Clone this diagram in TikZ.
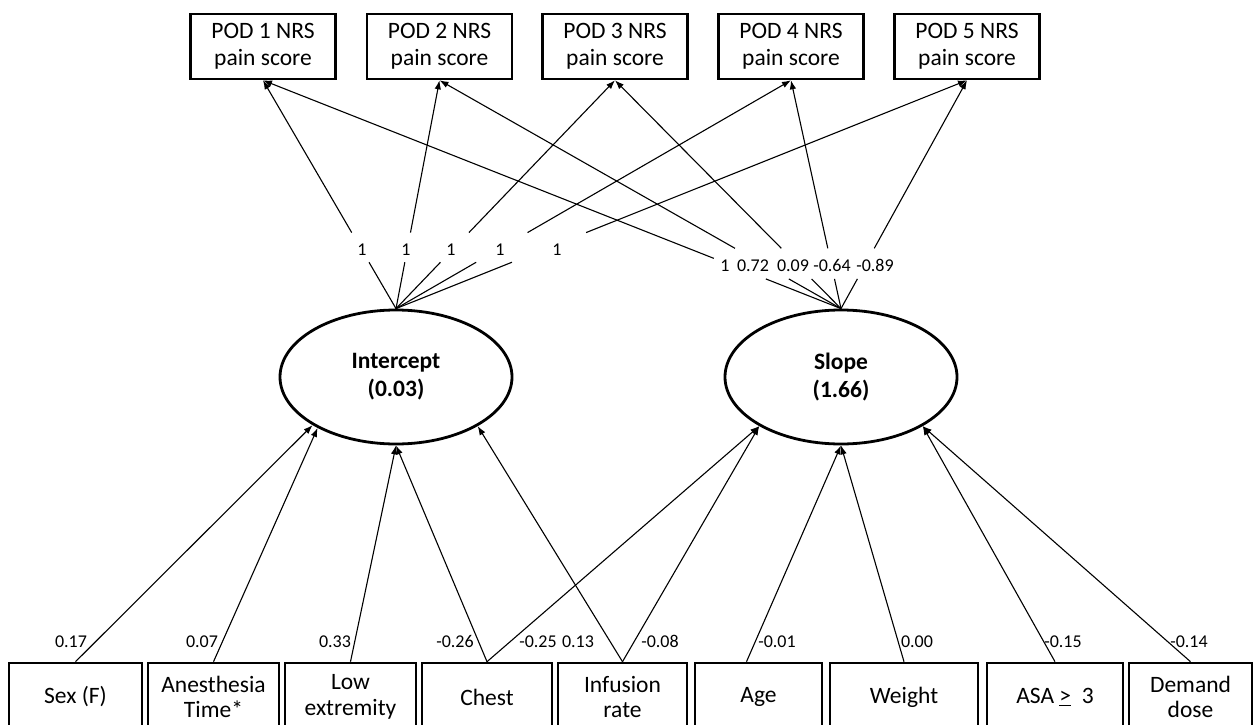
\documentclass[tikz,border=0pt]{standalone}
\usepackage{fontspec}
\setmainfont{Carlito}
\usetikzlibrary{arrows.meta,calc,shapes.geometric}
\begin{document}
\begin{tikzpicture}[x=1pt,y=-1pt,
  pod/.style={draw,line width=2.6pt,minimum width=145,minimum height=65,inner sep=0,align=center,font=\fontsize{23.5}{27}\selectfont},
  cov/.style={draw,line width=2.6pt,minimum height=68,inner sep=0,align=center,font=\fontsize{23.5}{25.5}\selectfont},
  lat/.style={draw,ellipse,line width=2.8pt,minimum width=232,minimum height=134,inner sep=0,align=center,font=\bfseries\fontsize{23.5}{28}\selectfont},
  lbl/.style={inner sep=0,text height=12pt,text depth=0pt,font=\fontsize{18}{20}\selectfont},
  con/.style={line width=1.1pt},
  arr/.style={line width=1.1pt,-{Latex[length=9pt,width=6.5pt]}}]
\path[use as bounding box] (0,0) rectangle (1253,725);
\clip (0,0) rectangle (1253,725);

% outcome boxes
\node[pod] (p1) at (263,46.5) {POD 1 NRS\\pain score};
\node[pod] (p2) at (439.5,46.5) {POD 2 NRS\\pain score};
\node[pod] (p3) at (615,46.5) {POD 3 NRS\\pain score};
\node[pod] (p4) at (791,46.5) {POD 4 NRS\\pain score};
\node[pod] (p5) at (967,46.5) {POD 5 NRS\\pain score};

% latent factors
\node[lat] (I) at (396,377) {Intercept\\(0.03)};
\node[lat] (S) at (841,377) {Slope\\(1.66)};

% covariates
\node[cov,minimum width=133] (sex) at (75.5,697) {Sex (F)};
\node[cov,minimum width=131] (ane) at (213.5,697) {Anesthesia\\Time*};
\node[cov,minimum width=131] (low) at (350.5,697) {Low\\extremity};
\node[cov,minimum width=130] (chest) at (487,697) {Chest};
\node[cov,minimum width=129] (inf) at (622.5,697) {Infusion\\rate};
\node[cov,minimum width=127] (age) at (758.5,697) {Age};
\node[cov,minimum width=148] (wt) at (904,697) {Weight};
\node[cov,minimum width=136] (asa) at (1055,697) {ASA \underline{>}~ 3};
\node[cov,minimum width=123] (dem) at (1190.5,697) {Demand\\dose};

% intercept loadings
\foreach \p in {p1,p2,p3,p4,p5}{
  \draw[con] (I.north) -- ($(I.north)!0.203!(\p.south)$);
  \draw[arr] ($(I.north)!0.333!(\p.south)$) -- (\p.south);
}
% slope loadings
\draw[con] (S.north) -- ($(S.north)!0.13!(p1.south)$);
\draw[arr] ($(S.north)!0.22!(p1.south)$) -- (p1.south);
\foreach \p in {p2,p3,p4,p5}{
  \draw[con] (S.north) -- ($(S.north)!0.13!(\p.south)$);
  \draw[arr] ($(S.north)!0.264!(\p.south)$) -- (\p.south);
}

\node[lbl] (li1) at (362,249) {1};
\node[lbl] (li2) at (406,249) {1};
\node[lbl] (li3) at (451,249) {1};
\node[lbl] (li4) at (500,249) {1};
\node[lbl] (li5) at (557,249) {1};
\node[lbl] (ls1) at (725,265) {1};
\node[lbl] (ls2) at (753,265) {0.72};
\node[lbl] (ls3) at (793,265) {0.09};
\node[lbl] (ls4) at (832,265) {-0.64};
\node[lbl] (ls5) at (875,265) {-0.89};

% covariate paths
\draw[arr] (sex.north) -- (I.-150);
\draw[arr] (ane.north) -- (I.-147);
\draw[arr] (low.north) -- (I.south);
\draw[arr] (chest.north) -- (I.south);
\draw[arr] (inf.north) -- (I.-31);
\draw[arr] (chest.north) -- (S.-149);
\draw[arr] (inf.north) -- (S.-149);
\draw[arr] ($(age.north)+(-12,0)$) -- (S.south);
\draw[arr] (wt.north) -- (S.south);
\draw[arr] (asa.north) -- (S.-31);
\draw[arr] (dem.north) -- (S.-31);

\node[lbl] (b1) at (71,641) {0.17};
\node[lbl] (b2) at (202,641) {0.07};
\node[lbl] (b3) at (335,641) {0.33};
\node[lbl] (b4) at (455,641) {-0.26};
\node[lbl] (b5) at (538,641) {-0.25};
\node[lbl] (b6) at (578,641) {0.13};
\node[lbl] (b7) at (660,641) {-0.08};
\node[lbl] (b8) at (777,641) {-0.01};
\node[lbl] (b9) at (917,641) {0.00};
\node[lbl] (b10) at (1063,641) {-0.15};
\node[lbl] (b11) at (1189,641) {-0.14};
\end{tikzpicture}
\end{document}
